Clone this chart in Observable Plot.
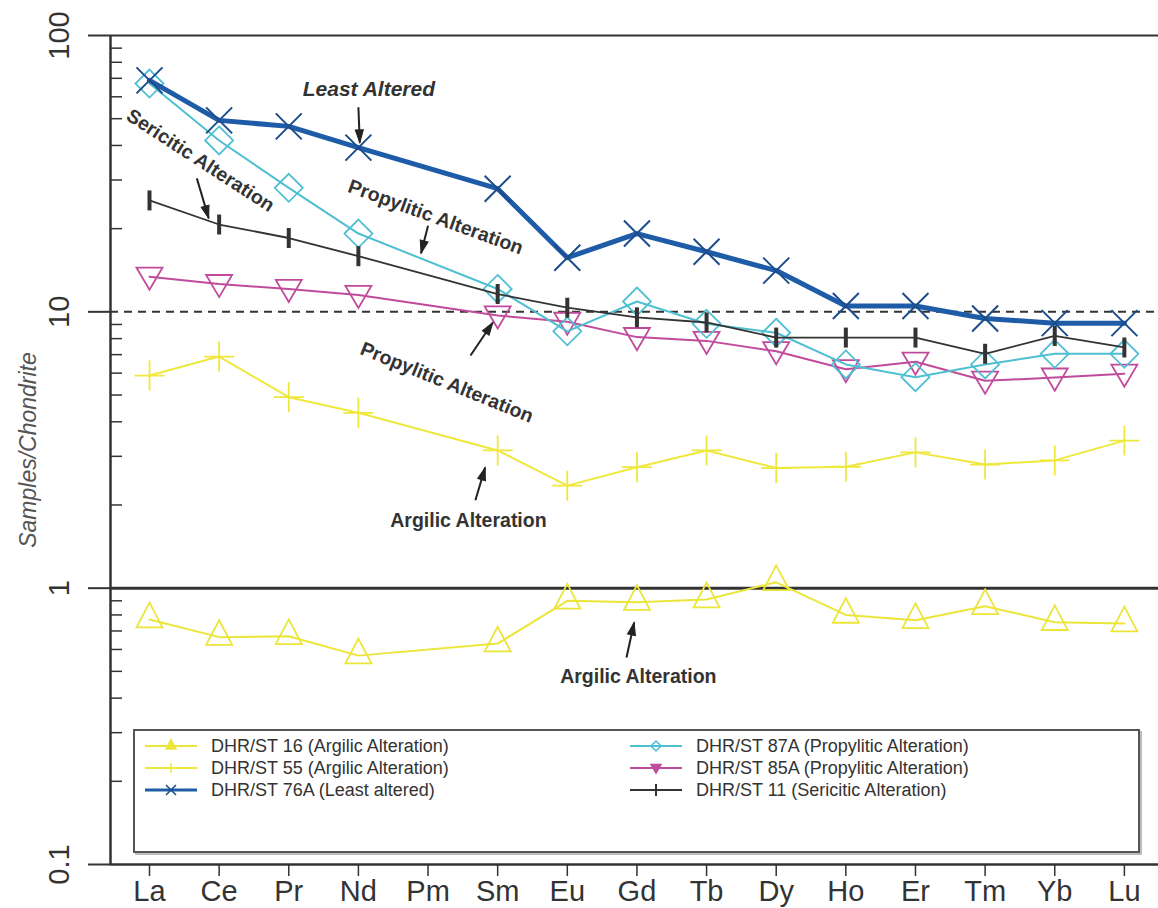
<!DOCTYPE html>
<html><head><meta charset="utf-8">
<script src="https://cdn.jsdelivr.net/npm/d3@7"></script>
<script src="https://cdn.jsdelivr.net/npm/@observablehq/plot@0.6"></script>
<style>
body{margin:0;background:#fff;}
#wrap{position:relative;width:1158px;height:908px;font-family:"Liberation Sans",Arial,sans-serif;}
#legend{position:absolute;left:133px;top:729px;width:1003px;height:120px;border:2px solid #555;box-shadow:2px 2px 0 #bbb;background:#fff;}
.item{position:absolute;height:22px;display:flex;align-items:center;font-family:"Liberation Sans",Arial,sans-serif;font-size:18px;color:#333;white-space:nowrap;}
.item svg{margin-right:14px;}
</style></head>
<body><div id="wrap"></div>
<script>
const elements = ["La","Ce","Pr","Nd","Pm","Sm","Eu","Gd","Tb","Dy","Ho","Er","Tm","Yb","Lu"];
const st16  = [0.77,0.665,0.67,0.57,null,0.63,0.90,0.89,0.91,1.05,0.80,0.765,0.86,0.753,0.745];
const st55  = [5.88,6.89,4.91,4.31,null,3.15,2.35,2.74,3.15,2.72,2.75,3.1,2.8,2.9,3.42];
const st76a = [68.8,49.3,46.9,39.3,null,27.9,15.7,19.2,16.5,14.1,10.5,10.5,9.46,9.1,9.1];
const st87a = [67,41.7,28.1,19.2,null,12.1,8.5,10.9,9.05,8.4,6.45,5.8,6.45,7.05,7.05];
const st85a = [13.4,12.6,12.1,11.5,null,9.7,9.2,8.1,7.85,7.2,6.2,6.6,5.63,5.78,5.97];
const st11  = [25.3,20.7,18.5,15.9,null,11.6,10.35,9.55,9.15,8.07,8.07,8.07,7.05,8.18,7.43];
const majorTicks = [0.1,1,10,100];
const minorTicks = [0.2,0.3,0.4,0.5,0.6,0.7,0.8,0.9,2,3,4,5,6,7,8,9,20,30,40,50,60,70,80,90];
const legendLabels = ["DHR/ST 16 (Argilic Alteration)","DHR/ST 55 (Argilic Alteration)","DHR/ST 76A (Least altered)",
  "DHR/ST 87A  (Propylitic Alteration)","DHR/ST 85A  (Propylitic Alteration)","DHR/ST 11 (Sericitic Alteration)"];
const labels = [
  {x:3.15, y:63.8, t:"Least Altered", r:0, italic:true, fs:21},
  {x:0.73, y:35.3, t:"Sericitic Alteration", r:33, fs:19.5},
  {x:4.11, y:22.0, t:"Propylitic Alteration", r:20, fs:19.5},
  {x:4.27, y:5.55, t:"Propylitic Alteration", r:22, fs:19.5},
  {x:4.58, y:1.76, t:"Argilic Alteration", r:0, fs:19.5},
  {x:7.02, y:0.479, t:"Argilic Alteration", r:0, fs:19.5}
];
const arrows = [
  {x1:3.0, y1:55, x2:3.02, y2:41},
  {x1:0.68, y1:30.4, x2:0.85, y2:21.8},
  {x1:4.0, y1:20.5, x2:3.9, y2:16.3},
  {x1:4.61, y1:6.95, x2:4.93, y2:9.15},
  {x1:4.68, y1:2.08, x2:4.82, y2:2.73},
  {x1:6.85, y1:0.561, x2:6.96, y2:0.751}
];

const xMin = -0.56, xMax = 14.49;
const rows = vals => vals.map((v,i)=>({i, v})).filter(d=>d.v!=null);
const sym = f => ({draw(c,size){ const s = Math.sqrt(size/Math.PI); f(c,s); }});
const timesSym = sym((c,s)=>{c.moveTo(-s,-s);c.lineTo(s,s);c.moveTo(s,-s);c.lineTo(-s,s);});
const diamondSym = sym((c,s)=>{c.moveTo(0,-s);c.lineTo(s,0);c.lineTo(0,s);c.lineTo(-s,0);c.closePath();});
const triUpSym = sym((c,s)=>{c.moveTo(0,-1.3*s);c.lineTo(s,0.6*s);c.lineTo(-s,0.6*s);c.closePath();});
const triDownSym = sym((c,s)=>{c.moveTo(-s,-0.7*s);c.lineTo(s,-0.7*s);c.lineTo(0,1.0*s);c.closePath();});
const plusSym = sym((c,s)=>{c.moveTo(-s,0);c.lineTo(s,0);c.moveTo(0,-s);c.lineTo(0,s);});
const vtickSym = sym((c,s)=>{c.moveTo(0,-s);c.lineTo(0,s);});
// arrow head pointing up, tip at origin
const headSym = sym((c,s)=>{c.moveTo(0,0);c.lineTo(0.45*s,1.4*s);c.lineTo(-0.45*s,1.4*s);c.closePath();});

const series = [
  {vals:st16, color:"#ece53a", lw:2, sym:triUpSym, r:13, mw:1.8},
  {vals:st55, color:"#efe83c", lw:2, sym:plusSym, r:15, mw:1.8},
  {vals:st85a, color:"#c04b9c", lw:2, sym:triDownSym, r:13, mw:1.8},
  {vals:st87a, color:"#4fbfd2", lw:2, sym:diamondSym, r:14, mw:1.8},
  {vals:st11, color:"#333333", lw:1.8, sym:vtickSym, r:10, mw:4},
  {vals:st76a, color:"#1f5ca8", lw:5, sym:timesSym, r:13, mw:2, mcolor:"#1d4c8c"}
];

const plotOpts = {
  width:1158, height:908,
  marginTop:35, marginBottom:44, marginLeft:110, marginRight:0,
  style:{background:"#fff", fontFamily:"Liberation Sans, Arial, sans-serif"},
  x:{type:"linear", domain:[xMin,xMax], axis:null},
  y:{type:"log", domain:[0.1,100], axis:null}
};

// first pass: get scales to orient arrow heads
const probe = Plot.plot({...plotOpts, marks:[Plot.dot(arrows,{x:"x1",y:"y1"})]});
const sx = probe.scale("x"), sy = probe.scale("y");
const heads = arrows.map(a => {
  const dx = sx.apply(a.x2) - sx.apply(a.x1), dy = sy.apply(a.y2) - sy.apply(a.y1);
  return {...a, angle: Math.atan2(dy, dx)*180/Math.PI + 90};
});

const marks = [
  Plot.ruleY([10], {stroke:"#333", strokeWidth:2, strokeDasharray:"8,6"}),
  Plot.ruleY([100], {stroke:"#333", strokeWidth:2}),
  Plot.ruleY([1], {stroke:"#333", strokeWidth:3}),
  Plot.ruleY([0.1], {stroke:"#333", strokeWidth:2.5}),
  Plot.ruleX([xMin], {y1:0.1, y2:100, stroke:"#333", strokeWidth:2.5}),
  Plot.axisY(majorTicks, {tickSize:22, tickFormat:()=>"", stroke:"#333", strokeWidth:2}),
  Plot.axisY(minorTicks, {tickSize:-12, tickFormat:()=>"", stroke:"#333", strokeWidth:1.5}),
  Plot.text(majorTicks, {x:xMin, y:d=>d, text:d=>String(d), rotate:-90, dx:-51, fontSize:29, fill:"#333"}),
  Plot.text(["Samples/Chondrite"], {frameAnchor:"left", textAnchor:"middle", text:d=>d, rotate:-90, dx:-82, fontSize:23,
     fontStyle:"italic", fill:"#555"}),
  Plot.axisX(d3.range(15), {tickFormat:i=>elements[i], tickSize:12, tickPadding:4, fontSize:29, stroke:"#333",
     fill:"#333", strokeWidth:1.5})
];
for (const s of series) {
  const d = rows(s.vals);
  marks.push(Plot.line(d, {x:"i", y:"v", stroke:s.color, strokeWidth:s.lw}));
  marks.push(Plot.dot(d, {x:"i", y:"v", symbol:s.sym, r:s.r, stroke:s.mcolor||s.color, strokeWidth:s.mw, fill:"none"}));
}
marks.push(Plot.link(arrows, {x1:"x1", y1:"y1", x2:"x2", y2:"y2", stroke:"#222", strokeWidth:2}));
marks.push(Plot.dot(heads, {x:"x2", y:"y2", symbol:headSym, r:9, rotate:"angle", fill:"#222", stroke:"#222", strokeWidth:1}));
for (const l of labels) {
  marks.push(Plot.text([l], {x:"x", y:"y", text:"t", rotate:l.r, fontSize:l.fs, fontWeight:"bold",
    fontStyle:l.italic?"italic":"normal", fill:"#333"}));
}

const chart = Plot.plot({...plotOpts, marks});
const wrap = document.getElementById("wrap");
wrap.appendChild(chart);

// legend
const legend = document.createElement("div");
legend.id = "legend";
wrap.appendChild(legend);
const legendSeries = [series[0], series[1], series[5], series[3], series[2], series[4]];
legendSeries.forEach((s, k) => {
  const col = Math.floor(k/3), row = k%3;
  const item = document.createElement("div");
  item.className = "item";
  item.style.left = (col ? 495 : 10) + "px";
  item.style.top = (4 + row*22) + "px";
  const svg = d3.create("svg").attr("width", 52).attr("height", 22);
  svg.append("line").attr("x1",0).attr("x2",52).attr("y1",11).attr("y2",11)
     .attr("stroke", s.color).attr("stroke-width", Math.min(s.lw, 3));
  const p = d3.path();
  const sz = s.sym === vtickSym ? 6 : 5;
  s.sym.draw(p, Math.PI*sz*sz);
  const filled = s.sym===triUpSym || s.sym===triDownSym;
  svg.append("path").attr("d", p.toString()).attr("transform","translate(26,11)")
     .attr("fill", filled ? s.color : "none")
     .attr("stroke", s.mcolor||s.color).attr("stroke-width", s.sym===vtickSym?2:1.5);
  item.appendChild(svg.node());
  const span = document.createElement("span");
  span.textContent = legendLabels[k];
  item.appendChild(span);
  legend.appendChild(item);
});
</script>
</body></html>
